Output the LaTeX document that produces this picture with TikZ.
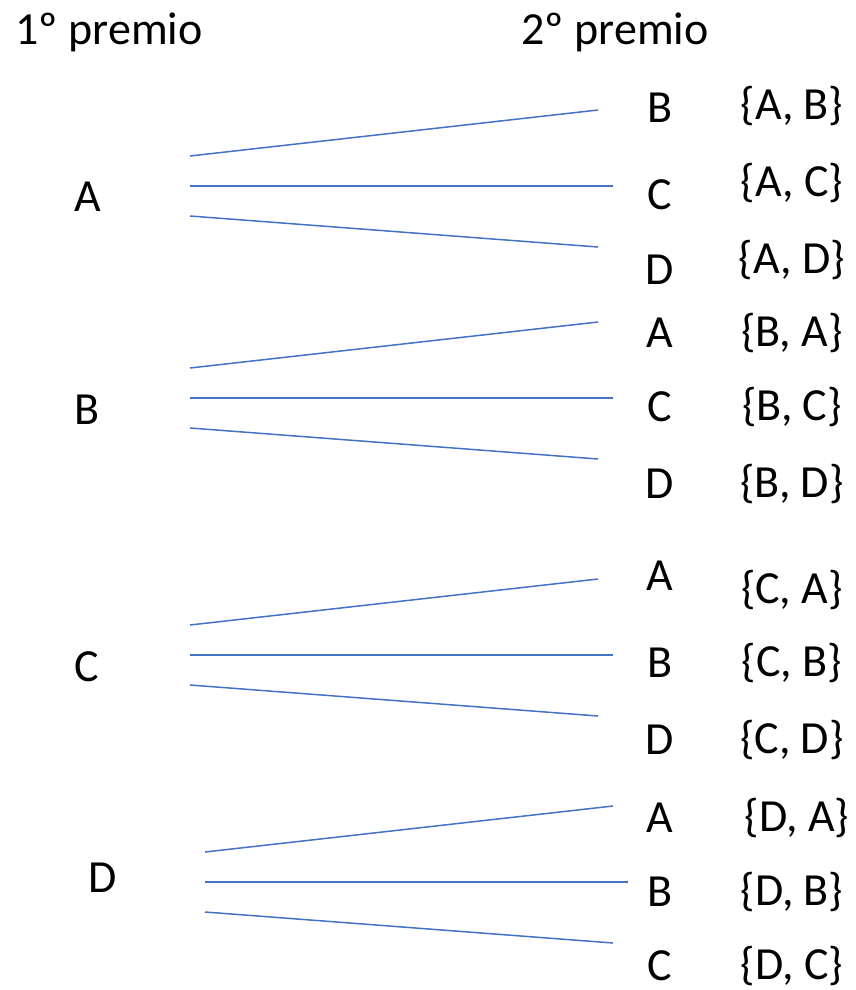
\documentclass[tikz,border=0pt]{standalone}
\usepackage{fontspec}
\setmainfont{Carlito}
\definecolor{lineblue}{RGB}{68,114,196}
\begin{document}
\begin{tikzpicture}[x=1pt,y=-1pt,
  lbl/.style={font=\fontsize{46}{52}\selectfont, inner sep=0pt, anchor=center},
  branch/.style={draw=lineblue, line width=1.5pt},
]
\useasboundingbox (0,0) rectangle (855,990);
\node[lbl] (h1) at (109,32) {1º premio};
\node[lbl] (h2) at (615,32) {2º premio};
% group A
\node[lbl] (A) at (88,197) {A};
\coordinate (a1) at (190,156); \coordinate (a2) at (190,186); \coordinate (a3) at (190,216);
\coordinate (ae1) at (598,110); \coordinate (ae2) at (613,186); \coordinate (ae3) at (598,247);
\draw[branch] (a1) -- (ae1); \draw[branch] (a2) -- (ae2); \draw[branch] (a3) -- (ae3);
\node[lbl] (AB) at (660,108) {B}; \node[lbl] (AC) at (660,195) {C}; \node[lbl] (AD) at (660,270) {D};
\node[lbl] (sAB) at (792,106) {\{A, B\}}; \node[lbl] (sAC) at (792,183) {\{A, C\}}; \node[lbl] (sAD) at (792,260) {\{A, D\}};
% group B
\node[lbl] (B) at (87,410) {B};
\coordinate (b1) at (190,368); \coordinate (b2) at (190,398); \coordinate (b3) at (190,428);
\coordinate (be1) at (598,322); \coordinate (be2) at (613,398); \coordinate (be3) at (598,459);
\draw[branch] (b1) -- (be1); \draw[branch] (b2) -- (be2); \draw[branch] (b3) -- (be3);
\node[lbl] (BA) at (660,333) {A}; \node[lbl] (BC) at (660,407) {C}; \node[lbl] (BD) at (660,484) {D};
\node[lbl] (sBA) at (792,333) {\{B, A\}}; \node[lbl] (sBC) at (792,407) {\{B, C\}}; \node[lbl] (sBD) at (792,484) {\{B, D\}};
% group C
\node[lbl] (C) at (87,667) {C};
\coordinate (c1) at (190,625); \coordinate (c2) at (190,655); \coordinate (c3) at (190,685);
\coordinate (ce1) at (598,579); \coordinate (ce2) at (613,655); \coordinate (ce3) at (598,716);
\draw[branch] (c1) -- (ce1); \draw[branch] (c2) -- (ce2); \draw[branch] (c3) -- (ce3);
\node[lbl] (CA) at (660,576) {A}; \node[lbl] (CB) at (660,663) {B}; \node[lbl] (CD) at (660,740) {D};
\node[lbl] (sCA) at (792,590) {\{C, A\}}; \node[lbl] (sCB) at (792,663) {\{C, B\}}; \node[lbl] (sCD) at (792,740) {\{C, D\}};
% group D
\node[lbl] (D) at (103,878) {D};
\coordinate (d1) at (205,852); \coordinate (d2) at (205,882); \coordinate (d3) at (205,912);
\coordinate (de1) at (613,806); \coordinate (de2) at (628,882); \coordinate (de3) at (613,943);
\draw[branch] (d1) -- (de1); \draw[branch] (d2) -- (de2); \draw[branch] (d3) -- (de3);
\node[lbl] (DA) at (660,818) {A}; \node[lbl] (DB) at (660,892) {B}; \node[lbl] (DC) at (660,966) {C};
\node[lbl] (sDA) at (797,818) {\{D, A\}}; \node[lbl] (sDB) at (792,892) {\{D, B\}}; \node[lbl] (sDC) at (792,966) {\{D, C\}};
\end{tikzpicture}
\end{document}
